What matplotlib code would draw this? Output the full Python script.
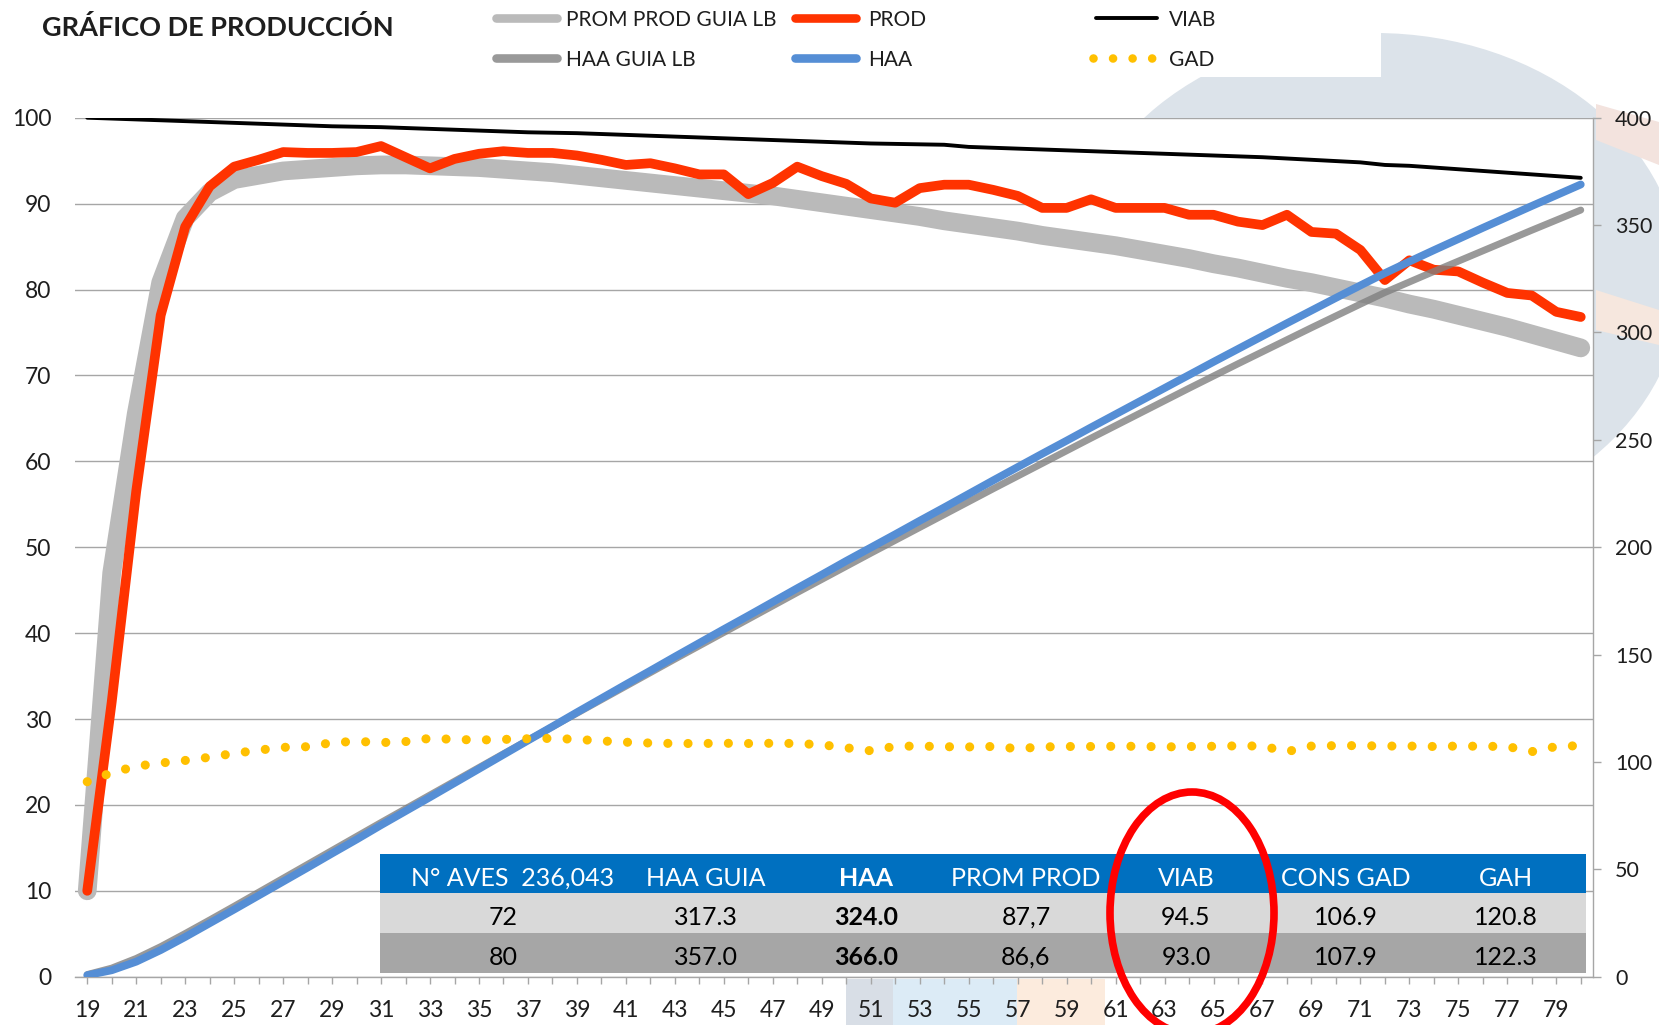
import matplotlib
matplotlib.use("Agg")
import matplotlib.pyplot as plt
from matplotlib.patches import Ellipse, Rectangle, Polygon

# ---------------- data ----------------
weeks = list(range(19, 81))

prom_prod_guia = [10.0, 47.0, 65.5, 80.8, 88.3, 91.3, 92.8, 93.3, 93.8, 94.0,
                  94.2, 94.4, 94.5, 94.5, 94.4, 94.3, 94.2, 94.0, 93.8, 93.6,
                  93.3, 93.0, 92.7, 92.4, 92.1, 91.8, 91.5, 91.2, 90.9, 90.5,
                  90.1, 89.7, 89.3, 88.9, 88.5, 88.0, 87.6, 87.2, 86.8, 86.3,
                  85.9, 85.5, 85.1, 84.6, 84.1, 83.6, 83.0, 82.5, 81.9, 81.3,
                  80.8, 80.2, 79.6, 79.0, 78.3, 77.7, 77.0, 76.3, 75.6, 74.8,
                  74.0, 73.2]

prod = [10.0, 32.0, 56.5, 77.0, 87.3, 92.0, 94.3, 95.1, 96.0, 95.9,
        95.9, 96.0, 96.7, 95.4, 94.1, 95.2, 95.8, 96.1, 95.9, 95.9,
        95.6, 95.1, 94.5, 94.7, 94.1, 93.4, 93.4, 91.1, 92.4, 94.3,
        93.2, 92.3, 90.6, 90.1, 91.8, 92.2, 92.2, 91.6, 90.9, 89.5,
        89.5, 90.5, 89.5, 89.5, 89.5, 88.7, 88.7, 87.9, 87.5, 88.7,
        86.7, 86.5, 84.6, 81.1, 83.4, 82.3, 82.1, 80.8, 79.6, 79.3,
        77.4, 76.8]

viab = [100.0, 99.9, 99.8, 99.7, 99.6, 99.5, 99.4, 99.3, 99.2, 99.1,
        99.0, 98.95, 98.9, 98.8, 98.7, 98.6, 98.5, 98.4, 98.3, 98.25,
        98.2, 98.1, 98.0, 97.9, 97.8, 97.7, 97.6, 97.5, 97.4, 97.3,
        97.2, 97.1, 97.0, 96.95, 96.9, 96.85, 96.6, 96.5, 96.4, 96.3,
        96.2, 96.1, 96.0, 95.9, 95.8, 95.7, 95.6, 95.5, 95.4, 95.25,
        95.1, 94.95, 94.8, 94.5, 94.4, 94.2, 94.0, 93.8, 93.6, 93.4,
        93.2, 93.0]

haa_guia = [1.0, 4.0, 8.5, 14.0, 20.1, 26.4, 32.8, 39.3, 45.8, 52.3,
            58.8, 65.3, 71.8, 78.2, 84.6, 91.0, 97.4, 103.8, 110.1, 116.4,
            122.7, 129.0, 135.3, 141.6, 147.9, 154.1, 160.3, 166.5, 172.7, 178.9,
            185.0, 191.1, 197.2, 203.2, 209.2, 215.2, 221.2, 227.2, 233.1, 239.0,
            244.9, 250.8, 256.6, 262.4, 268.2, 274.0, 279.7, 285.4, 291.0, 296.6,
            302.2, 307.7, 313.2, 318.6, 323.5, 328.4, 333.2, 338.0, 342.8, 347.6,
            352.3, 357.0]

haa = [0.7, 3.0, 7.0, 12.4, 18.5, 24.9, 31.3, 37.8, 44.3, 50.8,
       57.4, 63.9, 70.6, 77.1, 83.6, 90.2, 96.8, 103.4, 110.0, 116.5,
       123.1, 129.6, 136.1, 142.5, 149.0, 155.4, 161.8, 168.1, 174.5, 180.9,
       187.2, 193.6, 199.8, 206.0, 212.3, 218.5, 224.8, 231.1, 237.3, 243.5,
       249.6, 255.8, 261.9, 268.0, 274.1, 280.2, 286.3, 292.3, 298.3, 304.3,
       310.2, 316.1, 321.9, 327.6, 333.0, 338.3, 343.5, 348.7, 353.8, 358.9,
       363.9, 368.9]

gad = [90.8, 95.0, 98.0, 99.5, 100.7, 102.2, 104.0, 105.5, 106.8, 107.1,
       109.0, 109.6, 109.0, 109.5, 111.0, 110.5, 110.2, 110.5, 110.8, 111.0,
       110.5, 109.8, 109.2, 108.8, 108.6, 108.6, 108.7, 108.6, 108.7, 108.6,
       108.0, 106.6, 105.2, 107.3, 107.4, 107.1, 107.0, 107.2, 106.2, 107.0,
       107.2, 107.2, 107.3, 107.3, 107.0, 107.2, 107.3, 107.5, 107.4, 104.8,
       107.4, 107.6, 107.6, 107.4, 107.4, 107.2, 107.4, 107.3, 107.2, 104.8,
       107.2, 107.6]

table_header = ["N° AVES  236,043", "HAA GUIA", "HAA", "PROM PROD", "VIAB", "CONS GAD", "GAH"]
table_rows = [["72", "317.3", "324.0", "87,7", "94.5", "106.9", "120.8"],
              ["80", "357.0", "366.0", "86,6", "93.0", "107.9", "122.3"]]
bold_col = 2

series_names = ["PROM PROD GUIA LB", "PROD", "VIAB", "HAA GUIA LB", "HAA", "GAD"]

# ---------------- style ----------------
C_PROM = "#BABABA"
C_PROD = "#FF3300"
C_VIAB = "#000000"
C_HAAG = "#808080"
C_HAA = "#558ED5"
C_GAD = "#FFC000"
C_GRID = "#A6A6A6"
TXT = "#1E1E1E"
FONT = ["Lato", "DejaVu Sans"]

W, H = 1659, 1025
fig = plt.figure(figsize=(W / 100, H / 100), dpi=100)
fig.patch.set_facecolor("white")

# background watermark
bg = fig.add_axes([0, 0, 1, 1])
bg.set_zorder(0)
bg.set_xlim(0, W)
bg.set_ylim(H, 0)
bg.axis("off")
bg.add_patch(Ellipse((1375, 282), 614, 498, facecolor="#DCE3EA", edgecolor="none"))
bg.add_patch(Polygon([(1596, 104), (1659, 122), (1659, 165), (1596, 140)],
                     facecolor="#F3E3DE", edgecolor="none"))
bg.add_patch(Polygon([(1596, 290), (1659, 310), (1659, 345), (1596, 330)],
                     facecolor="#F6E7DE", edgecolor="none"))
bg.add_patch(Rectangle((846, 979), 47, 46, facecolor="#D8DEE6", edgecolor="none"))
bg.add_patch(Rectangle((893, 979), 124, 46, facecolor="#DCEBF6", edgecolor="none"))
bg.add_patch(Rectangle((1017, 979), 88, 46, facecolor="#FCEBDD", edgecolor="none"))
bg.add_patch(Rectangle((0, 0), 1381, 77, facecolor="white", edgecolor="none"))

# main axes
L, R, T, B = 75, 1593, 117.7, 976.7
ax = fig.add_axes([L / W, 1 - B / H, (R - L) / W, (B - T) / H])
ax.set_zorder(1)
ax.set_facecolor("white")
ax2 = ax.twinx()
ax2.set_zorder(2)
ax2.patch.set_visible(False)

ax.plot(weeks, prom_prod_guia, color=C_PROM, lw=13.5, solid_capstyle="round",
        solid_joinstyle="round", zorder=2)
ax.plot(weeks, prod, color=C_PROD, lw=7.0, solid_capstyle="round",
        solid_joinstyle="round", zorder=3)
ax.plot(weeks, viab, color=C_VIAB, lw=2.8, solid_capstyle="round", zorder=4)
ax2.plot(weeks, haa_guia, color=C_HAAG, alpha=0.8, lw=5.0, solid_capstyle="round",
         solid_joinstyle="round", zorder=2)
ax2.plot(weeks, haa, color=C_HAA, lw=5.6, solid_capstyle="round",
         solid_joinstyle="round", zorder=3)
ax2.plot(weeks, gad, color=C_GAD, lw=6.6, linestyle=(0, (0.001, 2.2)),
         dash_capstyle="round", zorder=4)

ax.set_xlim(18.5, 80.5)
ax.set_ylim(0, 100)
ax2.set_ylim(0, 400)
ax.set_yticks(range(0, 101, 10))
ax2.set_yticks(range(0, 401, 50))
ax.set_xticks(weeks)
ax.set_xticklabels([str(w) if w % 2 == 1 else "" for w in weeks])

ax.set_axisbelow(True)
ax.yaxis.grid(True, color=C_GRID, lw=1.0)
for s in ["left", "top", "right"]:
    ax.spines[s].set_visible(False)
ax.spines["bottom"].set_color(C_GRID)
ax.spines["bottom"].set_linewidth(1.0)
for s in ["left", "top", "bottom"]:
    ax2.spines[s].set_visible(False)
ax2.spines["right"].set_color(C_GRID)
ax2.spines["right"].set_linewidth(1.0)

ax.tick_params(axis="y", length=0, pad=17, labelsize=16.5, labelcolor=TXT)
ax.tick_params(axis="x", length=5, width=1, color=C_GRID, direction="out",
               pad=12, labelsize=16.5, labelcolor=TXT)
ax2.tick_params(axis="y", length=6, width=1, color=C_GRID, direction="out",
                pad=10, labelsize=15.5, labelcolor=TXT)
for lab in ax.get_xticklabels() + ax.get_yticklabels() + ax2.get_yticklabels():
    lab.set_family(FONT)

# foreground overlay: title, legend, table, annotation
fg = fig.add_axes([0, 0, 1, 1])
fg.set_zorder(5)
fg.patch.set_visible(False)
fg.set_xlim(0, W)
fg.set_ylim(H, 0)
fg.axis("off")

fg.text(42, 27, "GRÁFICO DE PRODUCCIÓN", ha="left", va="center", fontsize=19.5,
        fontweight="bold", family=FONT, color=TXT)

# legend (Excel-style grid of 3 columns x 2 rows)
leg_x = [492, 791, 1092]
leg_y = [18, 58]
leg_txt_x = [566, 868, 1169]
leg_styles = [
    dict(color=C_PROM, lw=6.2),
    dict(color=C_PROD, lw=6.2),
    dict(color=C_VIAB, lw=2.8),
    dict(color=C_HAAG, lw=6.2, alpha=0.8),
    dict(color=C_HAA, lw=6.2),
    dict(color=C_GAD, lw=6.2, linestyle=(0, (0.001, 2.27)), dash_capstyle="round"),
]
for i, name in enumerate(series_names):
    r, c = divmod(i, 3)
    y = leg_y[r]
    st = dict(leg_styles[i])
    if "linestyle" in st:
        fg.plot([leg_x[c] + 1, leg_x[c] + 62], [y, y], **st)
    else:
        fg.plot([leg_x[c] + 4, leg_x[c] + 65], [y, y], solid_capstyle="round", **st)
    fg.text(leg_txt_x[c], y + 1.5, name, ha="left", va="center", fontsize=15,
            family=FONT, color=TXT)

# summary table
col_edges = [380, 626, 786, 946, 1106, 1266, 1426, 1586]
row_edges = [854, 893, 933, 973]
row_colors = ["#0070C0", "#D9D9D9", "#A6A6A6"]
for ri in range(3):
    fg.add_patch(Rectangle((col_edges[0], row_edges[ri]), col_edges[-1] - col_edges[0],
                           row_edges[ri + 1] - row_edges[ri], facecolor=row_colors[ri],
                           edgecolor="none"))
for ci, h in enumerate(table_header):
    cx = (col_edges[ci] + col_edges[ci + 1]) / 2 + (10 if ci == 0 else 0)
    fg.text(cx, (row_edges[0] + row_edges[1]) / 2 + 4.5, h, ha="center", va="center",
            fontsize=18, family=FONT, color="white",
            fontweight="bold" if ci == bold_col else "normal")
for ri, row in enumerate(table_rows):
    yc = (row_edges[ri + 1] + row_edges[ri + 2]) / 2 + 4.5
    for ci, v in enumerate(row):
        cx = (col_edges[ci] + col_edges[ci + 1]) / 2
        fg.text(cx, yc, v, ha="center", va="center", fontsize=18, family=FONT,
                color="black", fontweight="bold" if ci == bold_col else "normal")

# red highlight ellipse around VIAB column
fg.add_patch(Ellipse((1192, 913), 164, 242, fill=False, edgecolor="#FF0000", lw=5.5))

fig.savefig("out.png", dpi=100, facecolor="white")
